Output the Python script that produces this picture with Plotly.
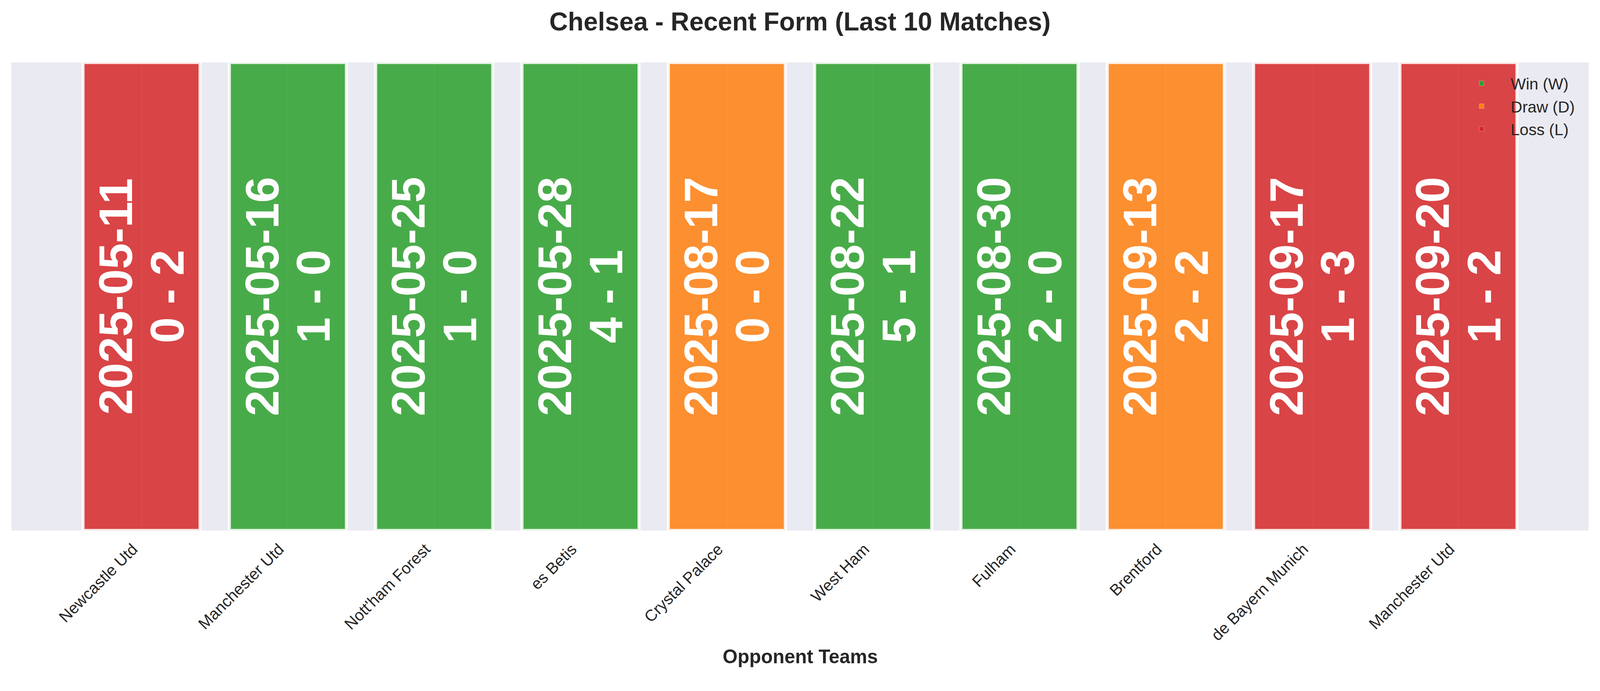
import plotly.graph_objects as go

opponents = ["Newcastle Utd", "Manchester Utd", "Nott'ham Forest", "es Betis", "Crystal Palace",
             "West Ham", "Fulham", "Brentford", "de Bayern Munich", "Manchester Utd"]
dates = ["2025-05-11", "2025-05-16", "2025-05-25", "2025-05-28", "2025-08-17",
         "2025-08-22", "2025-08-30", "2025-09-13", "2025-09-17", "2025-09-20"]
scores = ["0 - 2", "1 - 0", "1 - 0", "4 - 1", "0 - 0", "5 - 1", "2 - 0", "2 - 2", "1 - 3", "1 - 2"]
results = ["L", "W", "W", "W", "D", "W", "W", "D", "L", "L"]
bar_height = [1] * 10

result_names = {"W": "Win (W)", "D": "Draw (D)", "L": "Loss (L)"}
result_colors = {"W": (44, 160, 44), "D": (255, 127, 14), "L": (214, 39, 40)}

# the page is seen through a 4096 px wide viewport, so work in scaled pixels
S = 4096 / 4170
W, H = 4096, round(1769 * S)
L_M, R_M, T_M, B_M = 30 * S, 30 * S, 163 * S, (1769 - 1382) * S
PLOT_H = H - T_M - B_M
FONT = "Liberation Sans, Arial, sans-serif"
DARK = "#262626"


def px(v):
    return round(v * S, 1)


def rgba(c, a):
    return "rgba(%d,%d,%d,%s)" % (c[0], c[1], c[2], a)


def bar_label(d, s):
    # big bold text, line pitch set by the (smaller) base font size
    span = "<span style='font-size:%spx'>%%s</span>" % px(122)
    return span % d + "<br>" + span % s


fig = go.Figure()

for res in ["W", "D", "L"]:
    idx = [i for i, r in enumerate(results) if r == res]
    fig.add_trace(go.Bar(
        x=idx,
        y=[bar_height[i] for i in idx],
        width=0.8,
        text=[bar_label(dates[i], scores[i]) for i in idx],
        textposition="inside",
        insidetextanchor="middle",
        textangle=-90,
        constraintext="none",
        textfont=dict(family=FONT, size=px(103), color="white", weight="bold"),
        marker=dict(color=rgba(result_colors[res], 0.85),
                    line=dict(color="rgba(255,255,255,0.85)", width=px(8))),
        showlegend=False,
        hoverinfo="skip",
    ))

# legend entries in full colour
for res in ["W", "D", "L"]:
    fig.add_trace(go.Bar(
        x=[None], y=[None],
        name=result_names[res],
        legendgroup=res,
        marker=dict(color=rgba(result_colors[res], 1)),
        showlegend=True,
    ))

fig.update_layout(
    width=W, height=H,
    margin=dict(l=L_M, r=R_M, t=T_M, b=B_M, pad=0),
    paper_bgcolor="white",
    plot_bgcolor="#EAEAF2",
    barmode="overlay",
    font=dict(family=FONT, color=DARK),
    title=dict(text="<b>Chelsea - Recent Form (Last 10 Matches)</b>",
               font=dict(size=px(67), color=DARK),
               x=0.5, xref="paper", xanchor="center",
               y=1 - 56 / 1769, yref="container", yanchor="middle"),
    legend=dict(x=0.9137, xanchor="left", y=0.9831, yanchor="top",
                bgcolor="rgba(0,0,0,0)", font=dict(size=px(41.7), color=DARK),
                itemwidth=139, tracegroupgap=2),
    showlegend=True,
)

fig.update_xaxes(
    range=[-0.89, 9.89],
    tickmode="array",
    tickvals=list(range(len(opponents))),
    ticktext=opponents,
    tickangle=-45,
    tickfont=dict(size=px(41.7), color=DARK),
    ticks="",
    ticklabelstandoff=15,
    ticklabelshift=-22,
    showgrid=True, gridcolor="white", gridwidth=4,
    zeroline=False, showline=False,
)
fig.update_yaxes(
    range=[0, 1],
    showticklabels=False, ticks="",
    showgrid=False, zeroline=False, showline=False,
)

fig.add_annotation(
    text="<b>Opponent Teams</b>",
    xref="paper", yref="paper",
    x=0.5, y=-(1711 - 1382) * S / PLOT_H,
    xanchor="center", yanchor="middle",
    showarrow=False,
    font=dict(size=px(50), color=DARK),
)

fig.write_html("out.html", config={"displayModeBar": False},
               post_script="document.body.style.margin='0';")
